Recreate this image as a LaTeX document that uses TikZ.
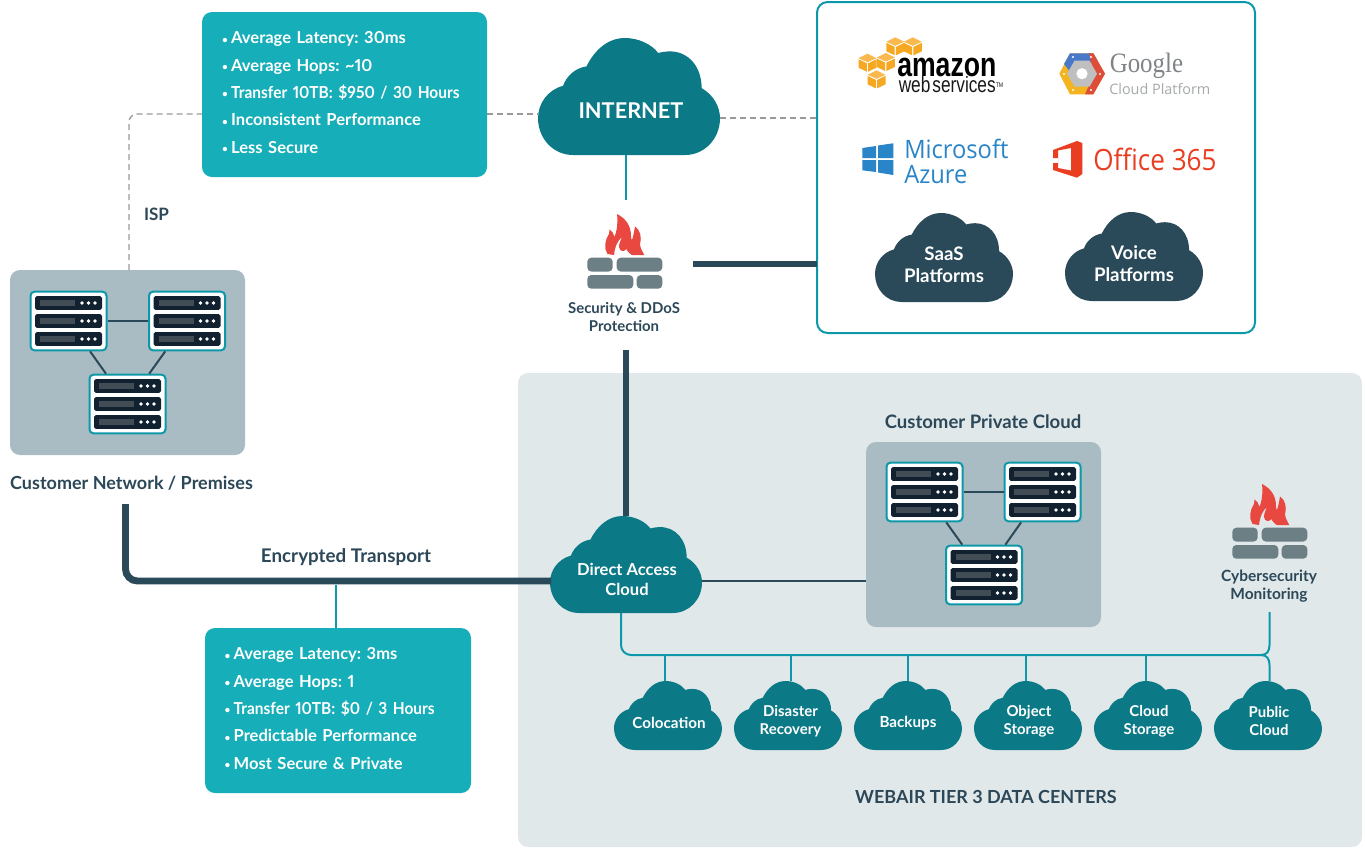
\documentclass[tikz,border=0pt]{standalone}
\usepackage{fontspec}
\setmainfont{Lato}[BoldFont={Lato Bold},Numbers=Proportional]
\newfontfamily\awsfont[FakeStretch=0.78]{Liberation Sans}
\newfontfamily\gfont[FakeStretch=0.89]{Liberation Serif}
\newfontfamily\gcfont{Open Sans}
\newfontfamily\msfont[FakeStretch=0.935]{Open Sans}
\newfontfamily\offont[FakeStretch=0.89]{Open Sans}
\definecolor{clouddark}{HTML}{0B7986}
\definecolor{cloudnavy}{HTML}{2A4A5A}
\definecolor{infoteal}{HTML}{16AEB8}
\definecolor{panelgrey}{HTML}{A9BCC3}
\definecolor{dcpanel}{HTML}{E1E8EA}
\definecolor{inkdark}{HTML}{2C4858}
\definecolor{racktrim}{HTML}{0C98A8}
\definecolor{rackbar}{HTML}{12212F}
\definecolor{rackslot}{HTML}{414C55}
\definecolor{brick}{HTML}{6C7F85}
\definecolor{flame}{HTML}{E8483F}
\definecolor{dashgrey}{HTML}{9A9A9A}
\definecolor{awsorange}{HTML}{F7A823}
\definecolor{msblue}{HTML}{2A85C8}
\definecolor{gblue}{HTML}{4A78C8}
\definecolor{gred}{HTML}{DD4B39}
\definecolor{gyellow}{HTML}{F4B41F}
\definecolor{offred}{HTML}{EA3E23}
\definecolor{ggrey}{HTML}{7F8487}
\newcommand{\bul}{\makebox[6.75pt][l]{\raisebox{0.5pt}{\fontsize{7.5}{7.5}\selectfont\textbullet}}}
\newcommand{\tight}[1]{{\addfontfeature{FakeStretch=0.935}#1}}
\tikzset{
 x=0.75pt,y=-0.75pt,
 panel/.style={fill=panelgrey,rounded corners=7.5pt,inner sep=0pt,outer sep=0pt},
 infobox/.style={fill=infoteal,rounded corners=7.5pt,inner sep=0pt,outer sep=0pt},
 infotext/.style={text=white,font=\bfseries\fontsize{12.4}{20.5}\selectfont,align=left,text width=200pt,inner sep=0pt},
 lab/.style={text=inkdark,font=\bfseries\fontsize{13.5}{15}\selectfont,inner sep=0pt,align=center},
 smalllab/.style={text=inkdark,font=\bfseries\fontsize{11.2}{13.5}\selectfont,inner sep=0pt,align=center},
 cloudtext/.style={text=white,font=\bfseries,inner sep=0pt,align=center},
 hollow/.style={inner sep=0pt,outer sep=0pt},
 rackbox/.style={draw=racktrim,line width=1.5pt,fill=white,rounded corners=3pt,minimum width=57pt,minimum height=44pt,inner sep=0pt,outer sep=0.75pt},
 thin link/.style={draw=cloudnavy,line width=1.5pt},
 heavy link/.style={draw=cloudnavy,line width=5.2pt},
 teal link/.style={draw=racktrim,line width=1.5pt},
 dash link/.style={draw=dashgrey,line width=1pt,dash pattern=on 4.5pt off 3pt},
}
% name, left, top, right, bottom, text x, text y, size, text
\newcommand{\cloudn}[9]{%
 \pgfmathsetmacro{\cw}{#4-#2}\pgfmathsetmacro{\ch}{#5-#3}%
 \pgfmathsetmacro{\ccx}{(#2+#4)/2}\pgfmathsetmacro{\ccy}{(#3+#5)/2}%
 \pgfmathsetmacro{\dxv}{(#6-\ccx)*0.75}\pgfmathsetmacro{\dyv}{(\ccy-#7)*0.75}%
 \pgfmathsetmacro{\sx}{\cw/545}\pgfmathsetmacro{\sy}{\ch/350}%
 \pgfmathsetmacro{\mw}{\cw*0.75}\pgfmathsetmacro{\mh}{\ch*0.75}%
 \pgfmathsetmacro{\lsk}{#8*1.2}%
 \begin{scope}[shift={(#2,#3)},xscale=\sx,yscale=\sy]
  \fill[\cloudcol] (105,350) .. controls (45,350) and (0,300) .. (0,240)
   .. controls (0,195) and (30,155) .. (75,143)
   .. controls (85,115) and (110,90) .. (145,85)
   .. controls (170,35) and (210,0) .. (260,0)
   .. controls (300,0) and (340,18) .. (360,45)
   .. controls (370,42) and (385,40) .. (395,40)
   .. controls (450,40) and (490,85) .. (490,150)
   .. controls (525,170) and (545,205) .. (545,240)
   .. controls (545,300) and (500,350) .. (440,350) -- cycle;
 \end{scope}
 \node[hollow,minimum width=\mw pt,minimum height=\mh pt,
   label={[cloudtext,font=\bfseries\fontsize{#8}{\lsk}\selectfont,xshift=\dxv pt,yshift=\dyv pt]center:{#9}}]
   (#1) at (\ccx,\ccy) {};
}
\newcommand{\cloudcol}{clouddark}
% name, x, y
\newcommand{\rack}[3]{%
 \node[rackbox] (#1) at (#2,#3) {};
 \begin{scope}[shift={(#1.center)}]
 \foreach \yy in {-18,0,18}{
  \fill[rackbar,rounded corners=1.2pt] (-33.5,\yy-6.8) rectangle (33.5,\yy+6.8);
  \fill[rackslot] (-28.5,\yy-3) rectangle (6.5,\yy+3);
  \foreach \xx in {13.5,20,26.5}{\fill[white] (\xx,\yy) circle (1.45pt);}
 }
 \end{scope}
}
% offset x,y
\newcommand{\fwicon}[2]{%
 \begin{scope}[shift={(#1,#2)}]
  \fill[brick,rounded corners=3pt] (587.3,257.7) rectangle (612.7,271.5);
  \fill[brick,rounded corners=3pt] (616.7,257.7) rectangle (662.3,271.5);
  \fill[brick,rounded corners=3pt] (587.3,275) rectangle (633.3,288.7);
  \fill[brick,rounded corners=3pt] (636.7,275) rectangle (662.3,288.7);
  \fill[flame] (607.5,254) .. controls (603.5,248) and (605,240) .. (609,234)
   .. controls (609.5,232) and (609.3,230.5) .. (609.5,229.5)
   .. controls (612,231) and (614,234) .. (614.5,237)
   .. controls (617,231) and (618,222) .. (617,214)
   .. controls (625,218) and (631,225) .. (631,236)
   .. controls (631,238) and (631.5,240) .. (632,240)
   .. controls (633,237) and (634,233) .. (635,226.5)
   .. controls (640,230) and (642,236) .. (640,244)
   .. controls (640,247) and (642,251) .. (644.3,255)
   -- (632,255) .. controls (630,254) and (627,251) .. (626.5,249)
   .. controls (624,252) and (620,252) .. (619,247)
   .. controls (619,243) and (621,240) .. (622,237)
   .. controls (618,240) and (615,246) .. (614,255) -- cycle;
 \end{scope}
}
\newcommand{\awscube}[2]{%
 \begin{scope}[shift={(#1,#2)}]
  \fill[awsorange!80!white] (-9,-4.5) -- (0,-9) -- (9,-4.5) -- (0,-0.5) -- cycle;
  \fill[awsorange] (-9,-3.4) -- (-0.6,0.6) -- (-0.6,9) -- (-9,5) -- cycle;
  \fill[awsorange] (9,-3.4) -- (0.6,0.6) -- (0.6,9) -- (9,5) -- cycle;
 \end{scope}
}
\frenchspacing
\begin{document}
\begin{tikzpicture}
\useasboundingbox (0,0) rectangle (1365,847);
\fill[white] (0,0) rectangle (1365,847);
% big panels
\node[hollow,fill=dcpanel,rounded corners=7.5pt,minimum width=633pt,minimum height=355.5pt] (dc) at (940,610) {};
\node[hollow,draw=racktrim,line width=1.5pt,fill=white,rounded corners=8pt,minimum width=328.5pt,minimum height=248.25pt] (cloudsbox) at (1036,167.5) {};
\node[panel,minimum width=176.25pt,minimum height=138.75pt] (prem) at (127.5,362.5) {};
\node[panel,minimum width=176.25pt,minimum height=138.75pt] (priv) at (983.5,534.5) {};
% clouds
\cloudn{internet}{538}{38}{720}{155}{631}{111}{16.3}{INTERNET}
\cloudn{direct}{550}{516}{702}{613}{627}{579.5}{12.4}{Direct Access\\Cloud}
\cloudn{colo}{614}{681}{722}{750}{669}{723}{11.4}{Colocation}
\cloudn{disaster}{734}{681}{842}{750}{790.5}{721}{11.2}{Disaster\\Recovery}
\cloudn{backups}{854}{681}{962}{750}{908}{723}{11.4}{Backups}
\cloudn{object}{974}{681}{1082}{750}{1029}{721}{11.2}{Object\\Storage}
\cloudn{cloudst}{1094}{681}{1202}{750}{1149}{721}{11.2}{Cloud\\Storage}
\cloudn{public}{1214}{681}{1322}{750}{1269}{721}{11.2}{Public\\Cloud}
\renewcommand{\cloudcol}{cloudnavy}
\cloudn{saas}{875}{213}{1013}{302}{944}{265}{14}{SaaS\\Platforms}
\cloudn{voice}{1065}{212}{1203}{301}{1134}{263.5}{14}{Voice\\Platforms}
% info boxes
\node[infobox,minimum width=213.75pt,minimum height=123.75pt,
  label={[infotext,xshift=8.25pt,yshift=1.5pt]center:{\bul Average Latency: 30ms\\\bul Average Hops: \textasciitilde10\\\bul \tight{Transfer 10TB: \$950 / 30 Hours}\\\bul Inconsistent Performance\\\bul Less Secure}}]
  (infotop) at (344.5,94.5) {};
\node[infobox,minimum width=199.5pt,minimum height=123.75pt,
  label={[infotext,xshift=15pt,yshift=1.5pt]center:{\bul Average Latency: 3ms\\\bul Average Hops: 1\\\bul \tight{Transfer 10TB: \$0 / 3 Hours}\\\bul Predictable Performance\\\bul Most Secure \& Private}}]
  (infobot) at (338,710.5) {};
% firewall
\node[hollow,minimum width=100.5pt,minimum height=112.5pt] (fw) at (626,275) {};
\fwicon{0}{0}
\node[smalllab] (fwlab) at (624,317) {Security \& DDoS\\Protection};
\node[hollow,minimum width=75pt,minimum height=40pt] (cyber) at (1269,550) {};
\fwicon{645}{270}
\node[smalllab,font=\bfseries\fontsize{11.6}{13.5}\selectfont] (cyblab) at (1269,586) {Cybersecurity\\Monitoring};
% labels
\node[lab] (premlab) at (131.5,483) {Customer Network / Premises};
\node[lab,font=\bfseries\fontsize{13.9}{15}\selectfont] (privlab) at (983,422) {Customer Private Cloud};
\node[lab] (dclab) at (986,796.5) {WEBAIR TIER 3 DATA CENTERS};
\node[lab,font=\bfseries\fontsize{14.1}{15}\selectfont] (translab) at (346,557.5) {Encrypted Transport};
\node[lab,font=\bfseries\fontsize{12.8}{15}\selectfont] (isplab) at (156.5,214) {ISP};
% racks
\rack{ra}{68.5}{321}\rack{rb}{187}{321}\rack{rc}{127.5}{404}
\rack{rd}{924.5}{492}\rack{re}{1042.5}{492}\rack{rf}{984}{575}
% connectors
\draw[thin link] (ra) -- (rb);\draw[thin link] (ra) -- (rc);\draw[thin link] (rb) -- (rc);
\draw[thin link] (rd) -- (re);\draw[thin link] (rd) -- (rf);\draw[thin link] (re) -- (rf);
\coordinate (premtop) at (129,270);
\coordinate (inL) at (538,114);\coordinate (inR) at (720,118);
\draw[dash link,rounded corners=6pt] (premtop) |- (infotop.west |- inL);
\draw[dash link] (infotop.east |- inL) -- (inL);
\draw[dash link] (inR) -- (cloudsbox.west |- inR);
\draw[teal link] (internet.south -| fw.north) -- (fw.north);
\draw[heavy link] (fw.south) -- (fw.south |- direct.north);
\coordinate (fwR) at (693,264);
\draw[heavy link] (fwR) -- (cloudsbox.west |- fwR);
\coordinate (premout) at (125.5,504);
\coordinate (dwest) at (551,581);
\draw[heavy link,rounded corners=9pt] (premout) |- (dwest);
\coordinate (tap) at (336,585);
\draw[teal link] (tap) -- (tap |- infobot.north);
\draw[thin link] (direct.east |- dwest) -- (priv.west |- dwest);
\coordinate (busL) at (621,613);\coordinate (busR) at (1261,655);\coordinate (cybS) at (1269.5,612);\coordinate (pubN) at (1269.5,681);
\draw[teal link,rounded corners=7.5pt] (busL) |- (busR);
\draw[teal link] (busR) .. controls (1267,655) and (1269.5,651) .. (1269.5,645) -- (cybS);
\draw[teal link] (busR) .. controls (1267,655) and (1269.5,659) .. (1269.5,665) -- (pubN);
\foreach \bx/\cn in {665/colo,791/disaster,908/backups,1026/object,1146/cloudst}{
 \coordinate (tmpb) at (\bx,655);
 \draw[teal link] (tmpb) -- (tmpb |- \cn.north);
}
% AWS logo
\awscube{895.3}{46.3}\awscube{912.8}{46.3}\awscube{867.5}{62.7}\awscube{885.8}{62}\awscube{876.5}{79.3}
\node[inner sep=0pt,anchor=base west] (awsa) at (897,76.5) {\awsfont\bfseries\fontsize{25.6}{26}\selectfont\color{black}amazon};
\node[inner sep=0pt,anchor=base west] (awsb) at (898.5,92.5) {\awsfont\fontsize{16.6}{17}\selectfont\color{black!90}web\hspace{1.5pt}services\raisebox{4pt}{\fontsize{5}{5}\selectfont TM}};
% Google logo
\fill[gyellow] (1059.3,73.7) -- (1070,53.3) -- (1093.3,53.3) -- (1105,73.7) -- (1093.3,94.3) -- (1070,94.3) -- cycle;
\fill[gblue] (1064,64) -- (1070,53.3) -- (1093.3,53.3) -- (1098,61.5) -- (1082,64) -- (1071,73) -- cycle;
\fill[gred] (1089,53.3) -- (1093.3,53.3) -- (1105,73.7) -- (1093.3,94.3) -- (1085,94.3) -- (1094,74) -- cycle;
\fill[black!25] (1067,73.7) -- (1074.5,60.7) -- (1089.5,60.7) -- (1097,73.7) -- (1089.5,86.7) -- (1074.5,86.7) -- cycle;
\fill[white] (1082,73.7) circle (4.2pt);
\foreach \gx/\gy in {1073/57,1091/57,1064/74,1100/74,1073/90,1091/90}{\fill[white] (\gx,\gy) circle (0.8pt);}
\node[inner sep=0pt,anchor=base west] (glog) at (1109.5,72) {\gfont\fontsize{21}{22}\selectfont\color{ggrey}Google};
\node[inner sep=0pt,anchor=base west] (gcp) at (1109,94) {\gcfont\fontsize{10.8}{12}\selectfont\color{ggrey!70}Cloud Platform};
% Azure logo
\fill[msblue] (862.3,148) -- (876,146) -- (876,158) -- (862.3,158) -- cycle;
\fill[msblue] (878,145.5) -- (893.3,143.3) -- (893.3,158) -- (878,158) -- cycle;
\fill[msblue] (862.3,160) -- (876,160) -- (876,172) -- (862.3,170.3) -- cycle;
\fill[msblue] (878,160) -- (893.3,160) -- (893.3,175) -- (878,172.5) -- cycle;
\node[inner sep=0pt,anchor=base west] (msa) at (904,158) {\msfont\fontsize{19}{20}\selectfont\color{msblue}Microsoft};
\node[inner sep=0pt,anchor=base west] (msb) at (904,183) {\msfont\fontsize{19}{20}\selectfont\color{msblue}Azure};
% Office logo
\fill[offred,even odd rule] (1053,150) -- (1077,141) -- (1082.3,143) -- (1082.3,174) -- (1077,177.7) -- (1053,170) -- (1053,163) -- (1058,163) -- (1058,158) -- (1053,158) -- cycle
 (1058,150.5) -- (1071,148) -- (1071,170.5) -- (1058,168) -- cycle;
\node[inner sep=0pt,anchor=base west] (off) at (1093,170) {\offont\fontsize{22}{23}\selectfont\color{offred}Office 365};
\end{tikzpicture}
\end{document}
